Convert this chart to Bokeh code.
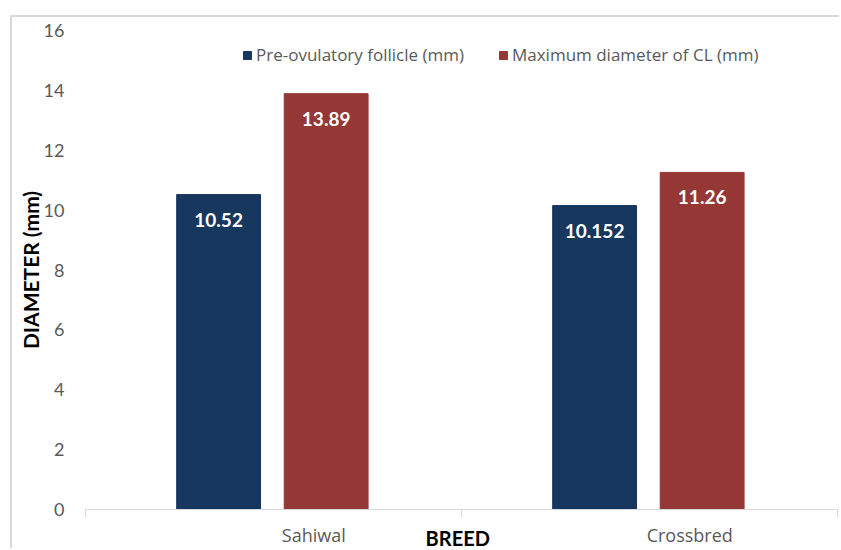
import numpy as np
from bokeh.plotting import figure
from bokeh.models import (ColumnDataSource, Range1d, Legend, LegendItem)
from bokeh.transform import dodge
from bokeh.core.properties import value
from bokeh.embed import file_html
from bokeh.resources import INLINE

# ---- data ----
breeds = ["Sahiwal", "Crossbred"]
preovulatory = [10.52, 10.152]
max_cl = [13.89, 11.26]
series_names = ["Pre-ovulatory follicle (mm)", "Maximum diameter of CL (mm)"]
y_ticks = [0, 2, 4, 6, 8, 10, 12, 14, 16]
x_title = "BREED"
y_title = "DIAMETER (mm)"

# ---- style ----
BLUE = "#17375E"
RED = "#953735"
GRAY = "#595959"
LINE = "#d9d9d9"
FONT = "Lato"
FONT2 = "Open Sans"
BAR_W = 0.223
OFF_A = -0.146
OFF_B = 0.14
LABEL_SHIFT = 0.107

# canvas (inside the outer chart border) and plot-area sizes in pixels
CANVAS_W, CANVAS_H = 829, 533
PAD_L, PAD_R, PAD_T, PAD_B = 73, 4, 13, 41

n = len(breeds)
plot_w = CANVAS_W - PAD_L - PAD_R
plot_h = CANVAS_H - PAD_T - PAD_B
ux = n / plot_w
uy = (y_ticks[-1] - y_ticks[0]) / plot_h
x_range = Range1d(-PAD_L * ux, n + PAD_R * ux)
y_range = Range1d(y_ticks[0] - PAD_B * uy, y_ticks[-1] + PAD_T * uy)

xc = np.arange(n) + 0.5
src = ColumnDataSource(dict(
    x=xc,
    pre=preovulatory,
    cl=max_cl,
    pre_lbl=[f"{v:g}" for v in preovulatory],
    cl_lbl=[f"{v:g}" for v in max_cl],
))

p = figure(width=CANVAS_W, height=CANVAS_H, output_backend="svg",
           toolbar_location=None, x_range=x_range, y_range=y_range,
           x_axis_location=None, y_axis_location=None,
           min_border=0)
p.margin = (15, 0, 0, 10)
p.styles = {"border-top": "2px solid " + LINE, "border-left": "2px solid " + LINE}
p.outline_line_color = None
p.grid.grid_line_color = None
p.background_fill_color = "white"
p.border_fill_color = "white"

r1 = p.vbar(x=dodge("x", OFF_A), top="pre", width=BAR_W, source=src,
            fill_color=BLUE, line_color=BLUE)
r2 = p.vbar(x=dodge("x", OFF_B), top="cl", width=BAR_W, source=src,
            fill_color=RED, line_color=RED)

for col, lbl, off in (("pre", "pre_lbl", OFF_A), ("cl", "cl_lbl", OFF_B)):
    p.text(x=dodge("x", off), y=col, text=lbl, source=src,
           text_font=value(FONT), text_font_style="bold", text_font_size="19px",
           text_color="white", text_align="center", text_baseline="middle",
           y_offset=25)

# x axis (category axis): line, boundary ticks, labels, title
p.segment(x0=[0], y0=[y_ticks[0]], x1=[n], y1=[y_ticks[0]], line_color=LINE, line_width=1)
bounds = np.arange(n + 1)
p.ray(x=bounds, y=[y_ticks[0]] * len(bounds), length=8, length_units="screen",
      angle=-np.pi / 2, line_color=LINE, line_width=1)
p.text(x=xc + LABEL_SHIFT, y=[y_ticks[0]] * n, text=breeds,
       text_font=value(FONT2), text_font_size="18px", text_color=GRAY,
       text_align="center", text_baseline="middle", y_offset=25)
p.text(x=[n / 2 - 0.01], y=[y_ticks[0]], text=[x_title],
       text_font=value(FONT), text_font_style="bold", text_font_size="20px",
       text_color="black", text_align="center", text_baseline="middle", y_offset=28)

# y axis: tick labels and title
p.text(x=[0] * len(y_ticks), y=y_ticks, text=[str(t) for t in y_ticks],
       text_font=value(FONT), text_font_size="18px", text_color=GRAY,
       text_align="right", text_baseline="middle", x_offset=-21)
p.text(x=[0], y=[(y_ticks[0] + y_ticks[-1]) / 2], text=[y_title], angle=np.pi / 2,
       text_font=value(FONT), text_font_style="bold", text_font_size="21px",
       text_color="black", text_align="center", text_baseline="middle", x_offset=-55)

legend = Legend(items=[LegendItem(label=series_names[0], renderers=[r1]),
                       LegendItem(label=series_names[1], renderers=[r2])],
                orientation="horizontal", location=(230, 484),
                label_text_font=FONT2, label_text_font_size="17px",
                label_text_color=GRAY, glyph_width=10, glyph_height=10,
                label_standoff=4, spacing=34, padding=4,
                border_line_color=None, background_fill_alpha=0)
p.add_layout(legend)

open("out.html", "w").write(file_html(p, INLINE))
